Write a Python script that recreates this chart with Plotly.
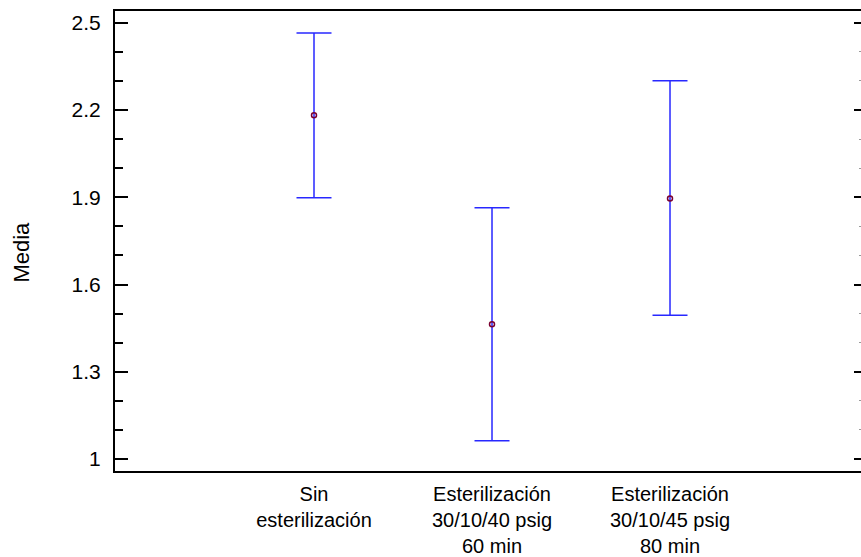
import plotly.graph_objects as go

categories = ["Sin<br>esterilización", "Esterilización<br>30/10/40 psig<br>60 min", "Esterilización<br>30/10/45 psig<br>80 min"]
means = [2.182, 1.463, 1.896]
upper = [2.464, 1.864, 2.300]
lower = [1.898, 1.063, 1.494]
ytick_vals = [1.0, 1.3, 1.6, 1.9, 2.2, 2.5]
ytick_text = ["1", "1.3", "1.6", "1.9", "2.2", "2.5"]
y_title = "Media"

err_plus = [u - m for u, m in zip(upper, means)]
err_minus = [m - l for m, l in zip(means, lower)]
xpos = list(range(len(categories)))

FONT = "Liberation Sans, Arial, sans-serif"
YR = [0.959, 2.540]

fig = go.Figure()
fig.add_trace(go.Scatter(
    x=xpos, y=means, mode="markers",
    marker=dict(symbol="circle-open", size=5, color="#7A0030", line=dict(width=1.5)),
    error_y=dict(type="data", symmetric=False, array=err_plus, arrayminus=err_minus,
                 color="#2828ff", thickness=1.5, width=17.5),
    showlegend=False, hoverinfo="skip",
))
fig.add_trace(go.Scatter(x=[0], y=[None], yaxis="y2", showlegend=False, hoverinfo="skip"))

fig.update_layout(
    width=861, height=557,
    margin=dict(l=115, r=0, t=11, b=86),
    paper_bgcolor="white", plot_bgcolor="white",
    font=dict(family=FONT, size=20, color="black"),
    xaxis=dict(
        range=[-1.118, 3.073], tickmode="array", tickvals=xpos, ticktext=categories,
        showline=True, linecolor="black", linewidth=2, mirror=True,
        ticks="", showgrid=False, zeroline=False, ticklabelstandoff=4,
        tickfont=dict(size=20, family=FONT),
    ),
    yaxis=dict(
        range=YR, tickmode="array", tickvals=ytick_vals, ticktext=ytick_text,
        showline=True, linecolor="black", linewidth=2,
        ticks="inside", ticklen=13, tickwidth=2, tickcolor="black",
        minor=dict(ticks="inside", ticklen=8, tickwidth=1.5, tickcolor="black", dtick=0.1, tick0=1.0, showgrid=False),
        showgrid=False, zeroline=False, ticklabelstandoff=8,
        tickfont=dict(size=21, family=FONT),
    ),
    yaxis2=dict(
        range=YR, overlaying="y", side="right", anchor="x",
        tickmode="array", tickvals=ytick_vals, showticklabels=False,
        ticks="inside", ticklen=7, tickwidth=2, tickcolor="black",
        minor=dict(ticks="inside", ticklen=2, tickwidth=1, tickcolor="#999999", dtick=0.1, tick0=1.0, showgrid=False),
        showline=False, showgrid=False, zeroline=False,
    ),
    annotations=[dict(
        text=y_title, textangle=-90, xref="paper", yref="paper",
        x=-0.1253, y=0.476, xanchor="center", yanchor="middle", showarrow=False,
        font=dict(size=22, family=FONT, color="black"),
    )],
)

fig.write_html("out.html")
